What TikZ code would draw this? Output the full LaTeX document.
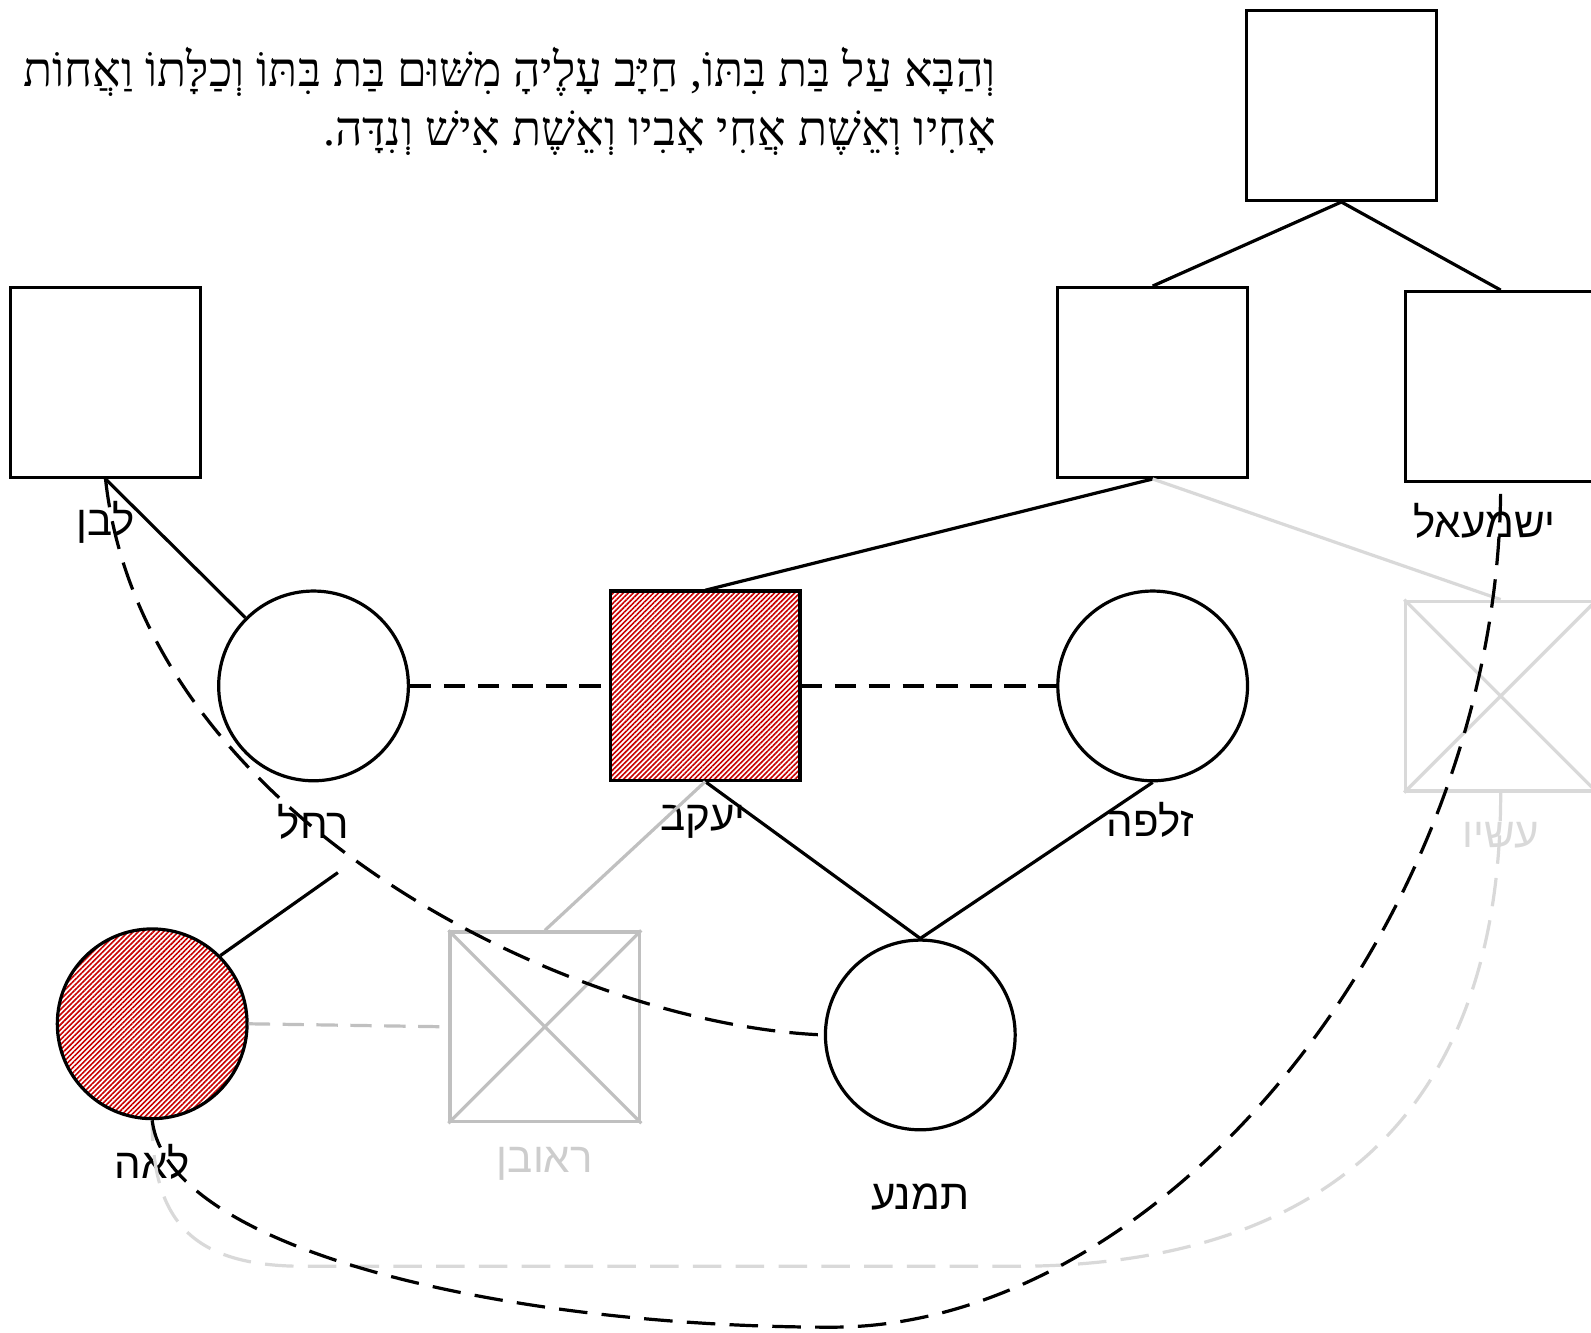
\documentclass[tikz,border=0pt]{standalone}
\usepackage{fontspec}
\setmainfont{Liberation Sans}
\newfontfamily\hebsans[Script=Hebrew]{Liberation Sans}
\newfontfamily\hebserif[Script=Hebrew]{Liberation Serif}
\TeXXeTstate=1
\usetikzlibrary{patterns.meta}

\definecolor{hatchred}{RGB}{200,0,0}
\definecolor{ghostgray}{RGB}{192,192,192}
\definecolor{faintgray}{RGB}{217,217,217}

\tikzset{
  person/.style={draw, line width=0.9pt, minimum size=1.87cm, inner sep=0pt},
  male/.style={person, rectangle},
  female/.style={person, circle},
  hatched/.style={pattern={Lines[angle=45,distance=1pt,line width=0.45pt]}, pattern color=hatchred},
  bond/.style={line width=0.9pt},
  marriage/.style={bond, dash pattern=on 6pt off 3.5pt},
  longdash/.style={bond, dash pattern=on 8pt off 4pt},
  tag/.style={font=\hebsans\fontsize{11.8}{14}\selectfont, inner sep=0pt},
  verse/.style={font=\hebserif\fontsize{13.4}{16.5}\selectfont, align=right, inner sep=0pt}
}

\begin{document}
\begin{tikzpicture}[x=0.1mm, y=-0.1mm]
\useasboundingbox (0,0) rectangle (1568,1313);
\clip (0,0) rectangle (1568,1313);

\node[verse, anchor=east] (verse) at (982,100)
  {\beginR וְהַבָּא עַל בַּת בִּתּוֹ, חַיָּב עָלֶיהָ מִשּׁוּם בַּת בִּתּוֹ וְכַלָּתוֹ וַאֲחוֹת\endR\\
   \beginR אָחִיו וְאֵשֶׁת אֲחִי אָבִיו וְאֵשֶׁת אִישׁ וְנִדָּה.\endR};

\node[male] (abraham) at (1322,104) {};
\node[male] (laban) at (104,377) {};
\node[male] (isaac) at (1136,377) {};
\node[male] (ishmael) at (1479,381) {};
\node[female] (rachel) at (309,676) {};
\node[male, hatched] (jacob) at (695,676) {};
\node[female] (zilpah) at (1136,676) {};
\node[male, draw=faintgray] (esau) at (1479,686) {};
\node[female, hatched] (leah) at (150,1009) {};
\node[male, draw=ghostgray] (reuben) at (537,1012) {};
\node[female] (timna) at (907,1020) {};

\node[tag] (t-laban) at (104,515) {\beginR לבן\endR};
\node[tag] (t-ishmael) at (1463,513) {\beginR ישמעאל\endR};
\node[tag] (t-rachel) at (309,810) {\beginR רחל\endR};
\node[tag] (t-jacob) at (693,810) {\beginR יעקב\endR};
\node[tag] (t-zilpah) at (1134,808) {\beginR זלפה\endR};
\node[tag, text=faintgray] (t-esau) at (1479,823) {\beginR עשיו\endR};
\node[tag] (t-leah) at (150,1145) {\beginR לאה\endR};
\node[tag, text=ghostgray!80!white] (t-reuben) at (537,1147) {\beginR ראובן\endR};
\node[tag] (t-timna) at (907,1180) {\beginR תמנע\endR};

\coordinate (rachel-leah) at (333,860);
\coordinate (low) at (820,1308);
\coordinate (esau-bend) at (1000,1248);
\coordinate (leah-bend) at (300,1248);

\draw[bond] (abraham.south) -- (isaac.north);
\draw[bond] (abraham.south) -- (ishmael.north);
\draw[bond] (laban.south) -- (rachel.135);
\draw[bond] (isaac.south) -- (jacob.north);
\draw[bond, faintgray] (isaac.south) -- (esau.north);
\draw[marriage] (rachel.east) -- (jacob.west);
\draw[marriage] (jacob.east) -- (zilpah.west);
\draw[bond] (jacob.south) -- (timna.north);
\draw[bond] (zilpah.south) -- (timna.north);
\draw[bond, ghostgray] (jacob.south) -- (reuben.north);
\draw[bond] (rachel-leah) -- (leah.45);
\draw[marriage, ghostgray] (leah.east) -- (reuben.west);
\draw[bond, ghostgray] (reuben.north west) -- (reuben.south east)
  (reuben.south west) -- (reuben.north east);
\draw[bond, faintgray] (esau.north west) -- (esau.south east)
  (esau.south west) -- (esau.north east);

\draw[longdash, faintgray] (esau.south) .. controls +(0,320) and +(300,0) .. (esau-bend)
  -- (leah-bend) .. controls +(-110,0) and +(0,100) .. (leah.south);
\draw[longdash] (laban.south) .. controls +(36,330) and +(-254,-10) .. (timna.west);
\draw[longdash] (leah.south) .. controls +(15,128) and +(-320,0) .. (low)
  .. controls +(330,0) and +(0,426) .. (ishmael.south);
\end{tikzpicture}
\end{document}
